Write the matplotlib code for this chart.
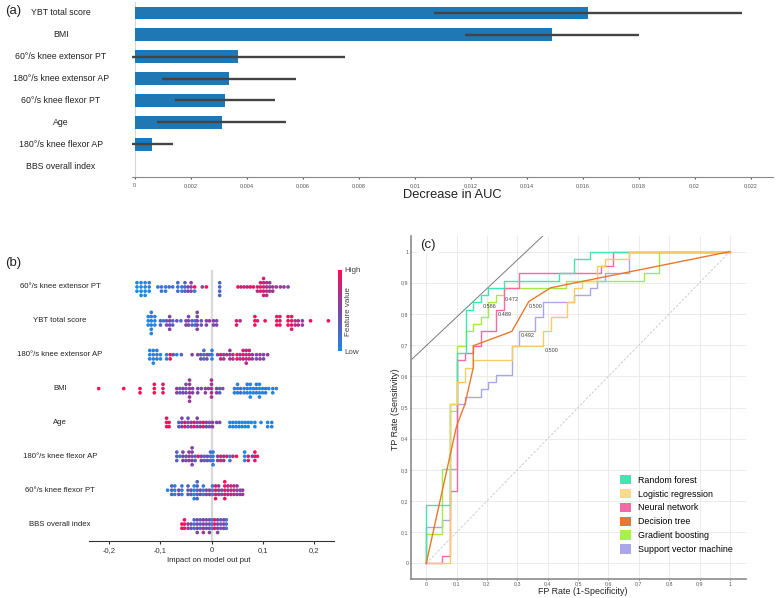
import numpy as np
import matplotlib
matplotlib.use('Agg')
import matplotlib.pyplot as plt
from matplotlib import transforms
from matplotlib.colors import LinearSegmentedColormap
from matplotlib.patches import Patch

plt.rcParams['font.family'] = ['Liberation Sans', 'DejaVu Sans']

# ---- datos panel (a): importancia por permutación ----
rasgos_a = ['YBT total score', 'BMI', '60°/s knee extensor PT', '180°/s knee extensor AP',
            '60°/s knee flexor PT', 'Age', '180°/s knee flexor AP', 'BBS overall index']
caida_auc = [0.0162, 0.0149, 0.0037, 0.00336, 0.00323, 0.0031, 0.0006, 0.0]
caida_auc_sd = [0.0055, 0.0031, 0.0038, 0.0024, 0.00178, 0.0023, 0.00075, 0.0]
ticks_a = [0, 0.002, 0.004, 0.006, 0.008, 0.01, 0.012, 0.014, 0.016, 0.018, 0.02, 0.022]

# ---- datos panel (b): valores SHAP (impacto, valor de la variable, repeticiones) ----
rasgos_b = ['60°/s knee extensor PT', 'YBT total score', '180°/s knee extensor AP', 'BMI',
            'Age', '180°/s knee flexor AP', '60°/s knee flexor PT', 'BBS overall index']

shap_ext_pt = [(-0.146, 0.0, 3), (-0.138, 0.05, 4), (-0.130, 0.0, 4), (-0.122, 0.05, 3),
               (-0.105, 0.1, 1), (-0.098, 0.15, 2), (-0.090, 0.1, 2), (-0.083, 0.2, 1), (-0.076, 0.15, 1),
               (-0.066, 0.2, 3), (-0.058, 0.1, 2), (-0.052, 0.3, 3), (-0.046, 0.5, 2), (-0.040, 0.55, 3),
               (-0.033, 0.95, 1), (-0.033, 0.1, 1), (-0.018, 0.5, 1), (-0.010, 1.0, 1),
               (0.016, 0.25, 4),
               (0.052, 1.0, 1), (0.058, 0.75, 1), (0.064, 0.75, 1), (0.070, 0.7, 1), (0.076, 0.9, 1),
               (0.082, 0.95, 1), (0.090, 0.7, 2), (0.096, 0.9, 3), (0.102, 0.8, 5), (0.108, 0.7, 4),
               (0.114, 0.6, 3), (0.120, 0.65, 2), (0.127, 0.6, 1), (0.135, 0.6, 1), (0.142, 0.55, 1),
               (0.150, 0.5, 1)]
shap_ybt = [(-0.124, 0.0, 3), (-0.118, 0.05, 6), (-0.111, 0.0, 3),
            (-0.100, 0.3, 2), (-0.094, 0.1, 1), (-0.088, 0.4, 2), (-0.082, 0.5, 4), (-0.076, 0.3, 2),
            (-0.068, 0.4, 1), (-0.060, 0.2, 1),
            (-0.050, 0.5, 2), (-0.045, 0.5, 3), (-0.038, 0.3, 2), (-0.032, 0.1, 2), (-0.028, 0.5, 5),
            (-0.020, 0.4, 2), (-0.010, 0.5, 2), (-0.004, 0.6, 1), (0.004, 0.5, 2), (0.010, 0.5, 2),
            (0.049, 0.9, 2), (0.056, 0.7, 1), (0.085, 1.0, 3), (0.090, 0.8, 1), (0.105, 0.95, 1),
            (0.128, 1.0, 3), (0.134, 0.9, 3), (0.150, 1.0, 3), (0.157, 0.9, 4), (0.164, 0.7, 2),
            (0.170, 0.7, 2), (0.178, 0.6, 2), (0.194, 1.0, 1), (0.229, 1.0, 1)]
shap_ext_ap = [(-0.121, 0.0, 3), (-0.114, 0.05, 4), (-0.107, 0.1, 3), (-0.100, 0.0, 2),
               (-0.088, 0.1, 2), (-0.081, 0.95, 2), (-0.075, 0.4, 1), (-0.068, 0.0, 1), (-0.059, 0.3, 1),
               (-0.038, 0.5, 1), (-0.027, 0.5, 1), (-0.021, 0.4, 2), (-0.015, 0.2, 3), (-0.009, 0.5, 2),
               (-0.004, 0.3, 1), (0.001, 0.05, 3),
               (0.012, 0.5, 1), (0.018, 0.9, 2), (0.024, 0.6, 2), (0.030, 0.8, 1), (0.036, 0.6, 3),
               (0.042, 0.7, 2), (0.050, 0.95, 2), (0.056, 0.6, 2), (0.062, 0.9, 3), (0.068, 0.7, 4),
               (0.074, 0.8, 3), (0.080, 0.6, 2), (0.088, 0.5, 2), (0.095, 0.6, 2), (0.102, 0.5, 2),
               (0.110, 0.6, 1)]
shap_bmi = [(-0.221, 1.0, 1), (-0.172, 1.0, 1), (-0.140, 1.0, 2), (-0.112, 1.0, 3), (-0.095, 0.95, 3),
            (-0.068, 0.6, 2), (-0.062, 0.3, 2), (-0.056, 0.5, 2), (-0.050, 0.4, 3), (-0.043, 0.6, 6),
            (-0.037, 0.5, 2), (-0.027, 0.5, 2), (-0.020, 0.4, 1), (-0.012, 0.5, 2), (-0.006, 0.6, 1),
            (0.000, 0.7, 5), (0.010, 0.5, 2), (0.016, 0.3, 2), (0.022, 0.4, 1),
            (0.045, 0.1, 2), (0.051, 0.0, 3), (0.057, 0.2, 2), (0.064, 0.05, 2), (0.070, 0.1, 3),
            (0.076, 0.0, 4), (0.082, 0.05, 2), (0.088, 0.15, 3), (0.094, 0.0, 4), (0.100, 0.05, 2),
            (0.106, 0.1, 2), (0.112, 0.0, 1), (0.120, 0.05, 2), (0.127, 0.0, 1)]
shap_age = [(-0.088, 1.0, 3), (-0.083, 0.95, 2),
            (-0.064, 0.3, 2), (-0.058, 0.5, 3), (-0.052, 0.9, 2), (-0.046, 0.4, 3), (-0.040, 0.6, 2),
            (-0.034, 0.9, 2), (-0.028, 0.5, 3), (-0.022, 0.6, 2), (-0.016, 0.95, 2), (-0.010, 0.5, 2),
            (-0.004, 0.4, 2), (0.002, 0.6, 2), (0.010, 0.5, 1), (0.016, 0.5, 1),
            (0.036, 0.0, 2), (0.042, 0.05, 2), (0.048, 0.0, 2), (0.054, 0.1, 2), (0.060, 0.0, 2),
            (0.066, 0.05, 2), (0.072, 0.0, 2), (0.078, 0.05, 1), (0.085, 0.0, 2),
            (0.097, 0.0, 1), (0.110, 0.0, 2), (0.118, 0.05, 2)]
shap_flex_ap = [(-0.068, 0.3, 3), (-0.062, 0.1, 1), (-0.056, 0.5, 3), (-0.050, 0.4, 2),
                (-0.044, 0.6, 3), (-0.038, 0.5, 5), (-0.032, 0.3, 2), (-0.026, 0.9, 1), (-0.020, 0.5, 2),
                (-0.014, 0.3, 2), (-0.008, 0.4, 2), (-0.002, 0.2, 3), (0.003, 0.1, 4),
                (0.012, 0.5, 2), (0.018, 0.8, 2), (0.024, 0.6, 2), (0.030, 0.9, 1), (0.036, 0.1, 2),
                (0.042, 0.8, 1), (0.049, 0.95, 1), (0.065, 0.0, 3), (0.072, 0.9, 2), (0.080, 0.6, 1),
                (0.085, 0.95, 3), (0.090, 0.9, 1)]
shap_flex_pt = [(-0.086, 0.0, 1), (-0.078, 0.3, 3), (-0.072, 0.1, 3), (-0.064, 0.5, 2), (-0.058, 0.1, 3),
                (-0.046, 0.3, 3), (-0.040, 0.4, 2), (-0.034, 0.0, 4), (-0.028, 0.3, 5), (-0.022, 0.5, 2),
                (-0.016, 0.1, 3), (-0.010, 0.5, 2), (-0.004, 0.6, 2),
                (0.002, 0.1, 3), (0.008, 0.9, 4), (0.014, 0.6, 3), (0.020, 0.4, 2), (0.026, 0.95, 5),
                (0.032, 0.6, 3), (0.038, 0.8, 3), (0.044, 0.7, 3), (0.050, 0.6, 3), (0.056, 0.5, 2),
                (0.061, 0.6, 2)]
shap_bbs = [(-0.058, 1.0, 2), (-0.053, 0.95, 3), (-0.046, 0.6, 2),
            (-0.040, 0.4, 2), (-0.034, 0.2, 3), (-0.028, 0.5, 4), (-0.022, 0.3, 3), (-0.016, 0.6, 4),
            (-0.010, 0.4, 3), (-0.004, 0.5, 4), (0.001, 0.05, 3), (0.006, 0.95, 3), (0.012, 0.5, 4),
            (0.018, 0.3, 3), (0.024, 0.6, 3), (0.029, 0.2, 3)]
filas_shap = [shap_ext_pt, shap_ybt, shap_ext_ap, shap_bmi, shap_age, shap_flex_ap, shap_flex_pt, shap_bbs]
ticks_b = [-0.2, -0.1, 0, 0.1, 0.2]

# ---- datos panel (c): curvas ROC ----
modelos = ['Random forest', 'Logistic regression', 'Neural network',
           'Decision tree', 'Gradient boosting', 'Support vector machine']
colores = ['#3ee6b0', '#f9d98a', '#f46aa6', '#e8792c', '#a8f04c', '#aaa6e8']
colores_linea = ['#3ee6b0', '#f7cc62', '#f46aa6', '#e8792c', '#a2ec3e', '#aaa6e8']

fpr_rf = [0, 0, 0.077, 0.077, 0.1, 0.1, 0.13, 0.13, 0.155, 0.155, 0.18, 0.18, 0.205, 0.205, 0.256,
          0.256, 0.436, 0.436, 0.487, 0.487, 0.538, 0.538, 1]
tpr_rf = [0, 0.186, 0.186, 0.512, 0.512, 0.674, 0.674, 0.814, 0.814, 0.837, 0.837, 0.86, 0.86, 0.884,
          0.884, 0.907, 0.907, 0.93, 0.93, 0.977, 0.977, 1, 1]
fpr_lr = [0, 0.077, 0.077, 0.1, 0.1, 0.128, 0.128, 0.154, 0.154, 0.282, 0.282, 0.385, 0.385, 0.41,
          0.41, 0.462, 0.462, 0.487, 0.487, 0.513, 0.513, 0.564, 0.564, 0.59, 0.59, 0.667, 0.667, 1]
tpr_lr = [0, 0, 0.512, 0.512, 0.581, 0.581, 0.628, 0.628, 0.651, 0.651, 0.698, 0.698, 0.744, 0.744,
          0.791, 0.791, 0.837, 0.837, 0.884, 0.884, 0.907, 0.907, 0.953, 0.953, 0.977, 0.977, 1, 1]
fpr_nn = [0, 0.051, 0.051, 0.077, 0.077, 0.1, 0.1, 0.128, 0.128, 0.154, 0.154, 0.18, 0.18, 0.23,
          0.23, 0.256, 0.256, 0.307, 0.307, 0.576, 0.576, 0.614, 0.614, 1]
tpr_nn = [0, 0, 0.023, 0.023, 0.233, 0.233, 0.651, 0.651, 0.674, 0.674, 0.698, 0.698, 0.744, 0.744,
          0.814, 0.814, 0.884, 0.884, 0.93, 0.93, 0.953, 0.953, 1, 1]
fpr_dt = [0, 0.1, 0.128, 0.155, 0.155, 0.282, 0.338, 0.41, 1]
tpr_dt = [0, 0.44, 0.512, 0.628, 0.698, 0.744, 0.84, 0.884, 1]
fpr_gb = [0, 0, 0.051, 0.051, 0.077, 0.077, 0.1, 0.1, 0.13, 0.13, 0.155, 0.155, 0.18, 0.18, 0.205,
          0.205, 0.23, 0.23, 0.257, 0.257, 0.46, 0.46, 0.718, 0.718, 0.767, 0.767, 1]
tpr_gb = [0, 0.093, 0.093, 0.302, 0.302, 0.488, 0.488, 0.698, 0.698, 0.744, 0.744, 0.767, 0.767,
          0.79, 0.79, 0.837, 0.837, 0.86, 0.86, 0.884, 0.884, 0.907, 0.907, 0.93, 0.93, 1, 1]
fpr_svm = [0, 0, 0.051, 0.051, 0.077, 0.077, 0.1, 0.1, 0.128, 0.128, 0.18, 0.18, 0.205, 0.205, 0.23,
           0.23, 0.282, 0.282, 0.307, 0.307, 0.359, 0.359, 0.385, 0.385, 0.487, 0.487, 0.538, 0.538,
           0.564, 0.564, 0.59, 0.59, 0.667, 0.667, 1]
tpr_svm = [0, 0.116, 0.116, 0.14, 0.14, 0.302, 0.302, 0.512, 0.512, 0.535, 0.535, 0.558, 0.558,
           0.581, 0.581, 0.605, 0.605, 0.698, 0.698, 0.744, 0.744, 0.791, 0.791, 0.837, 0.837, 0.86,
           0.86, 0.884, 0.884, 0.907, 0.907, 0.93, 0.93, 1, 1]
curvas = {'Random forest': (fpr_rf, tpr_rf), 'Logistic regression': (fpr_lr, tpr_lr),
          'Neural network': (fpr_nn, tpr_nn), 'Decision tree': (fpr_dt, tpr_dt),
          'Gradient boosting': (fpr_gb, tpr_gb), 'Support vector machine': (fpr_svm, tpr_svm)}
orden_dibujo = ['Support vector machine', 'Gradient boosting', 'Neural network',
                'Random forest', 'Logistic regression', 'Decision tree']

umbrales = ['0.586', '0.472', '0.489', '0.500', '0.492', '0.500']
umbral_x = [0.187, 0.26, 0.236, 0.339, 0.313, 0.391]
umbral_y = [0.823, 0.847, 0.798, 0.823, 0.730, 0.684]
tangente_corte = 0.698
tangente_pendiente = 0.917
ticks_c = [0, 0.1, 0.2, 0.3, 0.4, 0.5, 0.6, 0.7, 0.8, 0.9, 1]


def coma(v):
    # decimales con coma, como en la figura original
    return ('%g' % v).replace('.', ',')


def desplazamientos(valores, ancho=0.003, dy=0.125):
    # apila los puntos que caen en la misma columna (estilo beeswarm de SHAP)
    cajas = np.round(np.asarray(valores) / ancho)
    ys = np.zeros(len(valores))
    cuenta = {}
    for i, b in enumerate(cajas):
        capa = cuenta.get(b, 0)
        ys[i] = np.ceil(capa / 2) * (1 if capa % 2 else -1)
        cuenta[b] = capa + 1
    return ys * dy


W, H = 777, 598
fig = plt.figure(figsize=(W / 100, H / 100), dpi=100)

# ================= Panel (a) =================
ax_a = fig.add_axes([132 / W, 1 - 177 / H, 641 / W, 175 / H])
pos = np.arange(len(rasgos_a))
ax_a.barh(pos, caida_auc, height=0.58, color='#1f77b4',
          xerr=caida_auc_sd, error_kw=dict(ecolor='#444444', elinewidth=1.7, capsize=0))
ax_a.axvline(0, color='#d6d6d6', lw=0.8, zorder=0)
ax_a.set_xlim(-0.0001, 0.0228)
ax_a.set_ylim(7.5, -0.5)
for s in ['top', 'right', 'left']:
    ax_a.spines[s].set_visible(False)
ax_a.spines['bottom'].set_color('#8a8a8a')
ax_a.set_yticks([])
ax_a.set_xticks(ticks_a)
ax_a.set_xticklabels([coma(t) for t in ticks_a])
ax_a.tick_params(axis='x', labelsize=4, colors='#555555', length=1.5, pad=3)
tr_a = transforms.blended_transform_factory(fig.transFigure, ax_a.transData)
for i, r in enumerate(rasgos_a):
    ax_a.text(61 / W, i, r, transform=tr_a, ha='center', va='center', fontsize=6.3, color='#222222')
fig.text(452 / W, 1 - 195 / H, 'Decrease in AUC', ha='center', va='center', fontsize=9.3, color='#222222')
fig.text(5 / W, 1 - 11 / H, '(a)', ha='left', va='center', fontsize=9.5, color='#222222')

# ================= Panel (b) =================
cmap = LinearSegmentedColormap.from_list('shap', ['#1e88e5', '#7c45a8', '#ff0d57'])
ax_b = fig.add_axes([89 / W, 1 - 541 / H, 245 / W, 271 / H])
ax_b.axvline(0, color='#d9d9d9', lw=1.6, zorder=0)
for i, fila in enumerate(filas_shap):
    xs = np.repeat([f[0] for f in fila], [f[2] for f in fila])
    cs = np.repeat([f[1] for f in fila], [f[2] for f in fila])
    ys = i + desplazamientos(xs)
    ax_b.scatter(xs, ys, c=cs, cmap=cmap, vmin=0, vmax=1, s=7, linewidths=0, zorder=3)
ax_b.set_xlim(-0.24, 0.24)
ax_b.set_ylim(7.5, -0.5)
for s in ['top', 'right', 'left']:
    ax_b.spines[s].set_visible(False)
ax_b.spines['bottom'].set_color('#333333')
ax_b.spines['bottom'].set_linewidth(0.8)
ax_b.set_yticks([])
ax_b.set_xticks(ticks_b)
ax_b.set_xticklabels([coma(t) for t in ticks_b])
ax_b.tick_params(axis='x', labelsize=5.5, colors='#333333', length=2, pad=2)
tr_b = transforms.blended_transform_factory(fig.transFigure, ax_b.transData)
for i, r in enumerate(rasgos_b):
    ax_b.text(60 / W, i, r, transform=tr_b, ha='center', va='center', fontsize=5.6, color='#222222')
fig.text(209 / W, 1 - 561 / H, 'Impact on model out put', ha='center', va='center',
         fontsize=5.6, color='#222222')
fig.text(5 / W, 1 - 263 / H, '(b)', ha='left', va='center', fontsize=9.5, color='#222222')

ax_cb = fig.add_axes([338 / W, 1 - 351 / H, 4 / W, 81 / H])
sm = plt.cm.ScalarMappable(cmap=cmap, norm=plt.Normalize(0, 1))
cb = fig.colorbar(sm, cax=ax_cb, ticks=[0, 1])
cb.outline.set_visible(False)
cb.set_ticklabels(['Low', 'High'])
ax_cb.tick_params(labelsize=5.8, length=0, pad=1.5, colors='#444444')
fig.text(349 / W, 1 - 311 / H, 'Feature value', rotation=90, ha='center', va='center',
         fontsize=5.8, color='#444444')

# ================= Panel (c) =================
ax_c = fig.add_axes([411 / W, 1 - 579 / H, 335 / W, 343 / H])
ax_c.set_xlim(-0.05, 1.053)
ax_c.set_ylim(-0.05, 1.05)
ax_c.set_xticks(ticks_c)
ax_c.set_yticks(ticks_c)
ax_c.set_xticklabels([coma(t) for t in ticks_c])
ax_c.set_yticklabels([coma(t) for t in ticks_c])
ax_c.grid(True, color='#e8e8e8', lw=0.6)
ax_c.set_axisbelow(True)
for s in ['top', 'right']:
    ax_c.spines[s].set_visible(False)
for s in ['left', 'bottom']:
    ax_c.spines[s].set_color('#8c8c8c')
    ax_c.spines[s].set_linewidth(1.2)
ax_c.tick_params(labelsize=3.8, colors='#555555', length=1, pad=0.8)
ax_c.plot([0, 1], [0, 1], ls=(0, (3, 2)), color='#c4c4c4', lw=0.6, zorder=1)
ax_c.axline((0, tangente_corte), slope=tangente_pendiente, color='#7a7a7a', lw=0.7, zorder=1)
for nombre in orden_dibujo:
    k = modelos.index(nombre)
    fx, ty = curvas[nombre]
    ax_c.plot(fx, ty, color=colores_linea[k], lw=1.0, zorder=2)
for t, x, y in zip(umbrales, umbral_x, umbral_y):
    ax_c.text(x, y, t, fontsize=4, color='#444444', ha='left', va='center', zorder=4)
ax_c.text(0.027, 0.974, '(c)', transform=ax_c.transAxes, ha='left', va='center', fontsize=9.5,
          color='#222222', bbox=dict(facecolor='white', edgecolor='none', pad=1.5), zorder=5)
manijas = [Patch(facecolor=c, edgecolor='none') for c in colores]
ax_c.legend(manijas, modelos, loc='upper left', bbox_to_anchor=(620 / W, 1 - 475 / H),
            bbox_transform=fig.transFigure, frameon=False, fontsize=6.4, handlelength=1.24,
            handleheight=1.24, labelspacing=0.47, handletextpad=0.8, borderpad=0, borderaxespad=0)
fig.text(583 / W, 1 - 592 / H, 'FP Rate (1-Specificity)', ha='center', va='center',
         fontsize=6.4, color='#222222')
fig.text(396 / W, 1 - 409 / H, 'TP Rate (Sensitivity)', ha='center', va='center', rotation=90,
         fontsize=6.4, color='#222222')

fig.savefig('out.png', dpi=100)
